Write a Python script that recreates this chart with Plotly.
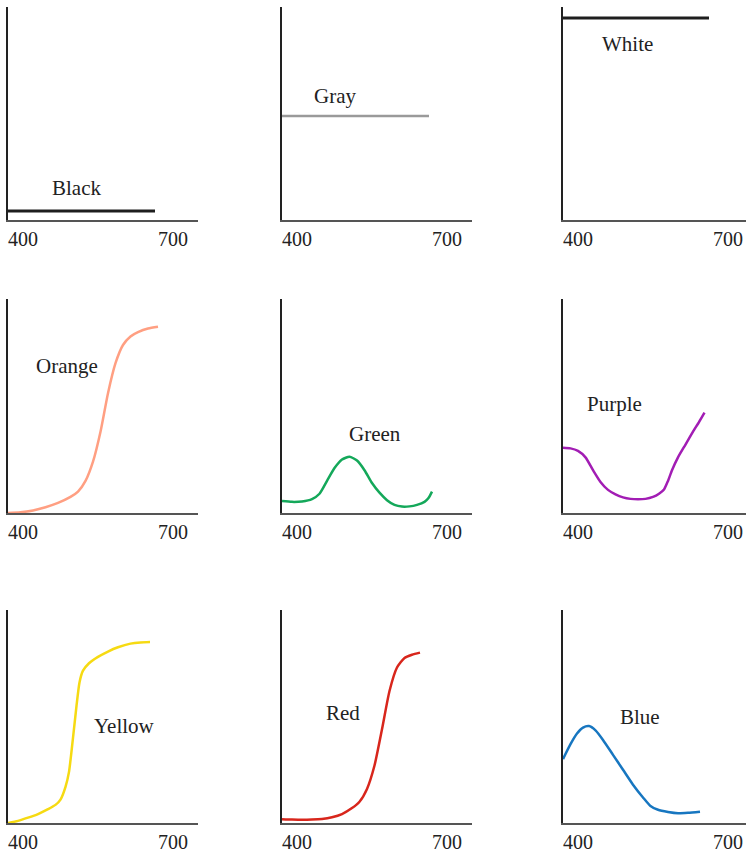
import plotly.graph_objects as go

# ---------------- data ----------------
names = ["Black", "Gray", "White", "Orange", "Green", "Purple", "Yellow", "Red", "Blue"]
tick_vals = [400, 700]
tick_text = ["400", "700"]

black_nm = [400, 694]
black_val = [0.042, 0.042]

gray_nm = [400, 694]
gray_val = [0.488, 0.488]

white_nm = [400, 692]
white_val = [0.948, 0.948]

orange_nm = [400, 425, 450, 475, 500, 525, 540, 555, 570, 585, 600, 615, 630, 645, 660, 680, 700]
orange_val = [0.0, 0.003, 0.012, 0.027, 0.047, 0.075, 0.10, 0.15, 0.24, 0.38, 0.56, 0.70, 0.785, 0.825, 0.845, 0.862, 0.87]

green_nm = [400, 420, 440, 460, 475, 490, 505, 520, 535, 550, 565, 580, 595, 610, 625, 640, 655, 670, 685, 693, 700]
green_val = [0.056, 0.052, 0.054, 0.065, 0.09, 0.15, 0.21, 0.25, 0.263, 0.245, 0.20, 0.14, 0.095, 0.06, 0.038, 0.03, 0.031, 0.038, 0.052, 0.07, 0.10]

purple_nm = [400, 415, 430, 445, 460, 475, 490, 505, 520, 535, 550, 565, 580, 592, 602, 610, 618, 630, 645, 660, 672, 683]
purple_val = [0.305, 0.302, 0.29, 0.26, 0.20, 0.145, 0.108, 0.087, 0.073, 0.066, 0.064, 0.066, 0.075, 0.09, 0.11, 0.15, 0.20, 0.26, 0.32, 0.38, 0.425, 0.469]

yellow_nm = [400, 420, 440, 460, 480, 495, 505, 515, 522, 530, 537, 543, 550, 562, 580, 600, 620, 645, 665, 684]
yellow_val = [0.0, 0.01, 0.025, 0.042, 0.065, 0.085, 0.11, 0.17, 0.24, 0.40, 0.55, 0.66, 0.715, 0.75, 0.78, 0.805, 0.825, 0.842, 0.848, 0.85]

red_nm = [400, 420, 440, 460, 480, 500, 520, 540, 555, 570, 585, 600, 615, 630, 645, 660, 676]
red_val = [0.018, 0.016, 0.015, 0.016, 0.019, 0.027, 0.042, 0.07, 0.10, 0.16, 0.27, 0.44, 0.62, 0.73, 0.775, 0.79, 0.80]

blue_nm = [400, 415, 428, 440, 452, 465, 480, 500, 520, 540, 560, 575, 590, 610, 630, 650, 674]
blue_val = [0.30, 0.37, 0.42, 0.448, 0.455, 0.435, 0.39, 0.32, 0.25, 0.18, 0.12, 0.08, 0.062, 0.052, 0.046, 0.048, 0.053]

label_nm = [536, 506, 528, 518, 586, 502, 632, 522, 554]
label_val = [0.15, 0.58, 0.826, 0.687, 0.369, 0.509, 0.455, 0.516, 0.50]

# ---------------- styles ----------------
series = [
    (black_nm, black_val, "#1e1e1e", 3),
    (gray_nm, gray_val, "#9a9a9a", 2.5),
    (white_nm, white_val, "#1e1e1e", 3),
    (orange_nm, orange_val, "#FF9F82", 2.5),
    (green_nm, green_val, "#14A85A", 2.5),
    (purple_nm, purple_val, "#A21DB4", 2.5),
    (yellow_nm, yellow_val, "#F6DA12", 2.5),
    (red_nm, red_val, "#D8261C", 2.5),
    (blue_nm, blue_val, "#1776C0", 2.5),
]

W, H = 746, 859
col_px = [(8, 198), (282, 472), (563, 746)]
row_px = [(7, 220), (299, 513), (610, 823)]
FONT = "Liberation Serif, Times New Roman, serif"

fig = go.Figure()
layout = dict(
    width=W, height=H, margin=dict(l=0, r=0, t=0, b=0),
    paper_bgcolor="white", plot_bgcolor="white", showlegend=False,
    font=dict(family=FONT, size=20, color="#222"),
)
annotations = []
for i, (xs, ys, color, lw) in enumerate(series):
    r, c = divmod(i, 3)
    n = "" if i == 0 else str(i + 1)
    fig.add_trace(go.Scatter(
        x=xs, y=ys, mode="lines", line=dict(color=color, width=lw, shape="spline", smoothing=0.6),
        xaxis="x" + n, yaxis="y" + n, hoverinfo="skip",
    ))
    x0, x1 = col_px[c]
    y0, y1 = row_px[r]
    width_px = x1 - x0
    layout["xaxis" + n] = dict(
        domain=[x0 / W, x1 / W], range=[400, 400 + 2 * width_px], anchor="y" + n,
        showline=True, linecolor="#555", linewidth=2, showgrid=False, zeroline=False,
        ticks="", tickvals=tick_vals, ticktext=tick_text, ticklabelshift=15,
        tickfont=dict(family=FONT, size=20, color="#222"), fixedrange=True,
    )
    layout["yaxis" + n] = dict(
        domain=[1 - y1 / H, 1 - y0 / H], range=[0, 1], anchor="x" + n,
        showline=True, linecolor="#222", linewidth=1.5, showgrid=False, zeroline=False,
        showticklabels=False, ticks="", fixedrange=True,
    )
    annotations.append(dict(
        x=label_nm[i], y=label_val[i], xref="x" + n, yref="y" + n, text=names[i],
        showarrow=False, font=dict(family=FONT, size=21, color="#222"),
    ))
layout["annotations"] = annotations
fig.update_layout(**layout)
fig.write_html(
    "out.html",
    config={"displayModeBar": False},
    post_script="document.body.style.margin='0';document.body.style.overflow='hidden';",
)
